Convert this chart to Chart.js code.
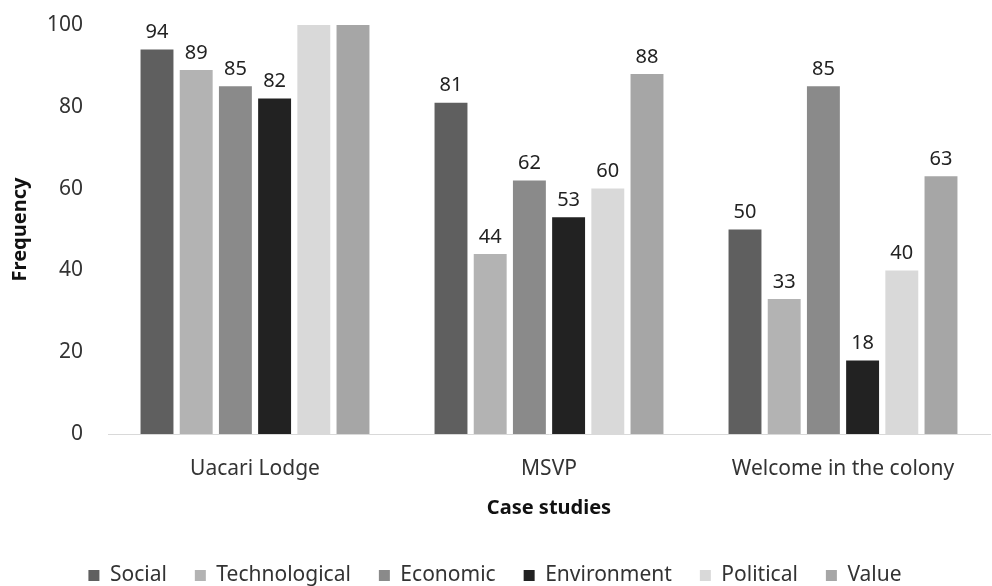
<!DOCTYPE html>
<html>
<head>
<meta charset="utf-8">
<script src="https://cdn.jsdelivr.net/npm/chart.js@4"></script>
<style>
  html, body { margin: 0; padding: 0; background: #fff; }
  #wrap { width: 992px; height: 586px; position: relative; }
</style>
</head>
<body>
<div id="wrap"><canvas id="chart"></canvas></div>
<script>
const categories = ["Uacari Lodge", "MSVP", "Welcome in the colony"];
const seriesNames = ["Social", "Technological", "Economic", "Environment", "Political", "Value"];
const social = [94, 81, 50];
const technological = [89, 44, 33];
const economic = [85, 62, 85];
const environment = [82, 53, 18];
const political = [100, 60, 40];
const value = [100, 88, 63];
const yTicks = [0, 20, 40, 60, 80, 100];

const colors = ["#5f5f5f", "#b3b3b3", "#8a8a8a", "#222222", "#d9d9d9", "#a6a6a6"];
const allValues = [social, technological, economic, environment, political, value];

const FONT = "'Noto Sans', 'Open Sans', sans-serif";

// value labels above each bar (hidden when the bar reaches the top of the axis)
const barLabels = {
  id: "barLabels",
  afterDatasetsDraw(chart) {
    const ctx = chart.ctx;
    const yMax = chart.scales.y.max;
    ctx.save();
    ctx.fillStyle = "#222";
    ctx.font = "20px " + FONT;
    ctx.textAlign = "center";
    ctx.textBaseline = "bottom";
    chart.data.datasets.forEach((ds, i) => {
      chart.getDatasetMeta(i).data.forEach((bar, j) => {
        if (ds.data[j] >= yMax) return;
        ctx.fillText(ds.data[j], bar.x, bar.y - 7);
      });
    });
    ctx.restore();
  }
};

new Chart(document.getElementById("chart"), {
  type: "bar",
  data: {
    labels: categories,
    datasets: seriesNames.map((name, i) => ({
      label: name,
      data: allValues[i],
      backgroundColor: colors[i],
      categoryPercentage: 0.8,
      barPercentage: 0.84
    }))
  },
  options: {
    responsive: true,
    maintainAspectRatio: false,
    animation: false,
    layout: { padding: { top: 25, right: 2, bottom: -10, left: 0 } },
    plugins: {
      legend: {
        position: "bottom",
        labels: {
          font: { family: FONT, size: 21 },
          color: "#333",
          boxWidth: 11,
          boxHeight: 11,
          padding: 28
        }
      },
      tooltip: { enabled: false }
    },
    scales: {
      y: {
        min: 0,
        max: 100,
        afterBuildTicks: axis => { axis.ticks = yTicks.map(v => ({ value: v })); },
        afterFit: axis => {
          axis.width = 108;
          axis.paddingTop = 0;
          axis.paddingBottom = 0;
        },
        grid: { display: false, drawTicks: false },
        border: { display: false },
        ticks: { font: { family: FONT, size: 21 }, color: "#333", padding: 25 },
        title: {
          display: true,
          text: "Frequency",
          font: { family: FONT, size: 20, weight: "bold" },
          color: "#111",
          padding: { top: 8, bottom: 0 }
        }
      },
      x: {
        afterFit: axis => { axis.height = 103; },
        grid: { display: false, drawTicks: false },
        border: { color: "#d9d9d9", width: 1 },
        ticks: { font: { family: FONT, size: 21 }, color: "#333", padding: 22 },
        title: {
          display: true,
          text: "Case studies",
          font: { family: FONT, size: 20, weight: "bold" },
          color: "#111",
          padding: { top: 16, bottom: 17 }
        }
      }
    }
  },
  plugins: [barLabels]
});
</script>
</body>
</html>
